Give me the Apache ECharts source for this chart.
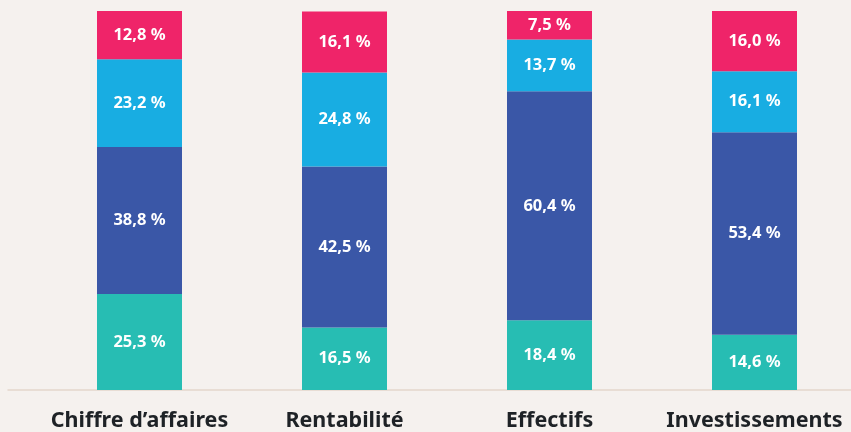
<!DOCTYPE html>
<html style="height: 100%">
<head>
<meta charset="utf-8">
<script src="https://cdn.jsdelivr.net/npm/echarts@6/dist/echarts.min.js"></script>
</head>
<body style="height: 100%; margin: 0; background: #f5f1ee">
<div id="container" style="width: 851px; height: 432px"></div>
<script type="text/javascript">
var categories = ['Chiffre d\u2019affaires', 'Rentabilit\u00e9', 'Effectifs', 'Investissements'];
var tealValues = [25.3, 16.5, 18.4, 14.6];
var navyValues = [38.8, 42.5, 60.4, 53.4];
var skyValues = [23.2, 24.8, 13.7, 16.1];
var pinkValues = [12.8, 16.1, 7.5, 16.0];

var colors = ['#27bdb3', '#3a57a7', '#18ade2', '#ef2469'];

function pct(p) {
    return p.value.toFixed(1).replace('.', ',') + ' %';
}

function makeSeries(name, data, color) {
    return {
        name: name,
        type: 'bar',
        stack: 'total',
        barWidth: 85,
        data: data,
        itemStyle: { color: color },
        label: {
            show: true,
            color: '#ffffff',
            fontFamily: 'Noto Sans',
            fontWeight: 'bold',
            fontSize: 16.5,
            formatter: pct
        }
    };
}

var dom = document.getElementById('container');
var myChart = echarts.init(dom);
var option = {
    backgroundColor: '#f5f1ee',
    animation: false,
    grid: [
        // bars: bands of 205px, first centre at x=139.5
        { left: 37, width: 820, top: 11, bottom: 42, outerBoundsMode: 'none' },
        // baseline running across the whole width
        { left: 8, right: 0, top: 11, bottom: 42, outerBoundsMode: 'none' }
    ],
    xAxis: [
        {
            type: 'category',
            gridIndex: 0,
            data: categories,
            axisLine: { show: false },
            axisTick: { show: false },
            axisLabel: {
                interval: 0,
                color: '#1e2226',
                fontFamily: 'Noto Sans',
                fontWeight: 'bold',
                fontSize: 21.5,
                margin: 20
            }
        },
        {
            type: 'value',
            gridIndex: 1,
            min: 0,
            max: 1,
            axisLine: { show: true, lineStyle: { color: '#e3d6cc', width: 1.5 } },
            axisTick: { show: false },
            axisLabel: { show: false },
            splitLine: { show: false }
        }
    ],
    yAxis: [
        { type: 'value', gridIndex: 0, min: 0, max: 100, show: false },
        { type: 'value', gridIndex: 1, min: 0, max: 1, show: false }
    ],
    series: [
        makeSeries('a', tealValues, colors[0]),
        makeSeries('b', navyValues, colors[1]),
        makeSeries('c', skyValues, colors[2]),
        makeSeries('d', pinkValues, colors[3])
    ]
};
myChart.setOption(option);
</script>
</body>
</html>
